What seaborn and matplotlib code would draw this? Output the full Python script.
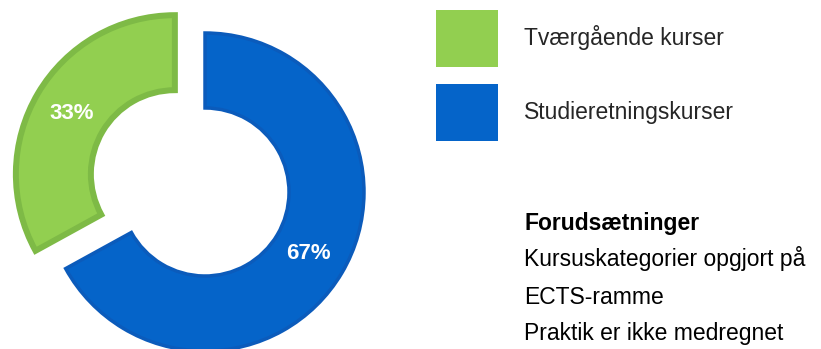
import matplotlib
matplotlib.use("Agg")
import matplotlib.pyplot as plt
from matplotlib.patches import Patch
import seaborn as sns

# Course categories and their share of the ECTS frame
categories = ["Tværgående kurser", "Studieretningskurser"]
shares = [33, 67]
fill_colors = ["#92cf50", "#0564c9"]
edge_colors = ["#7eba46", "#0b5bbb"]

note_title = "Forudsætninger"
note_lines = ["Kursuskategorier opgjort på", "ECTS-ramme", "Praktik er ikke medregnet"]

sns.set_theme(style="white")
plt.rcParams["font.family"] = ["Liberation Sans", "DejaVu Sans"]

W, H = 821, 349
fig = plt.figure(figsize=(W / 100, H / 100), dpi=100)
ax = fig.add_axes([0, 0, 1, 1])

def y(py):
    # convert a top-down pixel row to the axes' bottom-up coordinate
    return H - py

wedges, _, pct_texts = ax.pie(
    shares,
    colors=fill_colors,
    startangle=90,
    counterclock=True,
    explode=[35, 0],
    center=(205, y(192)),
    radius=159,
    autopct="%d%%",
    pctdistance=0.755,
    wedgeprops=dict(width=75, linewidth=4.3, joinstyle="miter"),
    textprops=dict(color="white", fontsize=16, fontweight="bold"),
    frame=False,
)
for w, ec, lw in zip(wedges, edge_colors, [4.3, 2.5]):
    w.set_edgecolor(ec)
    w.set_linewidth(lw)

ax.set_xlim(0, W)
ax.set_ylim(0, H)
ax.set_aspect("equal")
ax.axis("off")

fs_pt = 16.5
fs_px = fs_pt * 100 / 72
# legend box height = fs*(0.65*hh + 0.245); solve for a 57 px square
sq_h = 57 / fs_px
hh = (sq_h - 0.245) / 0.65
handles = [Patch(facecolor=c, edgecolor="none") for c in fill_colors]
ax.legend(
    handles, categories,
    loc="upper left",
    bbox_to_anchor=(436 / W, 1 - 10 / H),
    frameon=False,
    borderpad=0, borderaxespad=0,
    fontsize=fs_pt,
    handlelength=62 / fs_px,
    handleheight=hh,
    handletextpad=26 / fs_px,
    labelspacing=17 / fs_px,
)

ax.text(524, y(230), note_title, fontsize=fs_pt, fontweight="bold",
        color="black", va="baseline", ha="left")
for py, line in zip([266, 304, 340], note_lines):
    ax.text(524, y(py), line, fontsize=fs_pt, color="black",
            va="baseline", ha="left")

fig.savefig("out.png", dpi=100, facecolor="white")
